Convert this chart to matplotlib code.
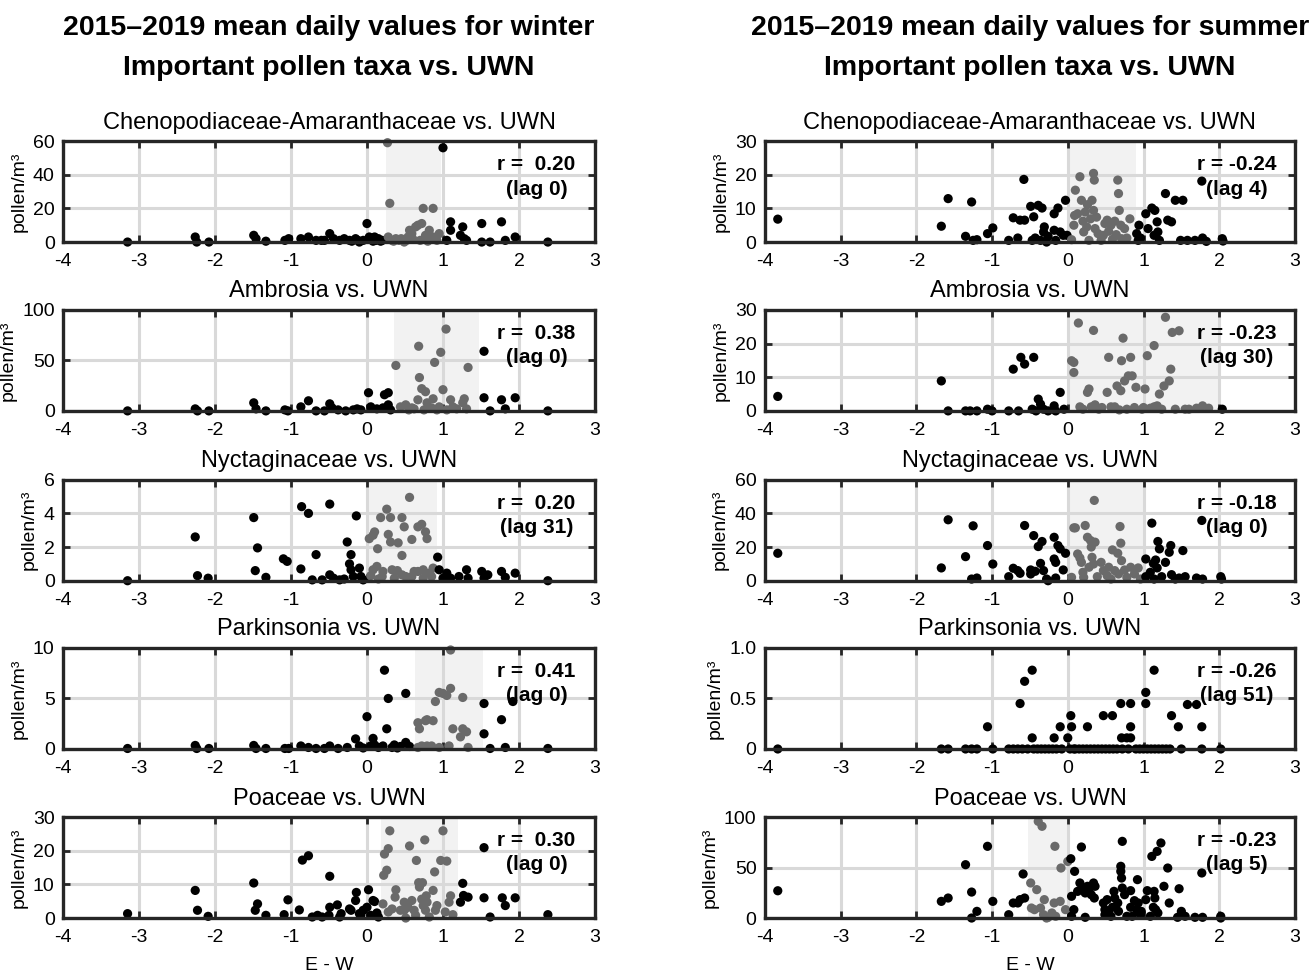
import matplotlib
matplotlib.use('Agg')
import matplotlib.pyplot as plt

FAM = ['Liberation Sans Narrow', 'Liberation Sans', 'DejaVu Sans']
plt.rcParams['font.family'] = FAM
plt.rcParams['axes.unicode_minus'] = False

# ---------------- data ----------------
taxa = ['Chenopodiaceae-Amaranthaceae', 'Ambrosia', 'Nyctaginaceae', 'Parkinsonia', 'Poaceae']
season_names = ['winter', 'summer']

# winter panels: (UWN E-W, pollen/m3)
w_chen = [(-3.15,0),(-2.26,3),(-2.24,0),(-2.08,0),(-1.49,4),(-1.46,2),(-1.33,0.5),(-1.08,1),(-1.03,2),
          (-0.87,2),(-0.77,3),(-0.67,1),(-0.6,1),(-0.56,1),(-0.49,5),(-0.44,2),(-0.36,1),(-0.3,2),(-0.23,1),
          (-0.2,0.5),(-0.15,2),(-0.12,1),(-0.10,0),(0.00,11),(-0.05,1),(0.03,3),(0.05,2),(0.08,0.5),(0.10,3),
          (0.12,1),(0.15,2),(0.18,0.5),(0.20,1),
          (0.27,59),(0.30,23),(0.28,3),(0.33,1),(0.35,0.5),(0.38,2),(0.42,1),(0.45,2),(0.49,0),(0.52,1),
          (0.54,3),(0.56,7),(0.59,5),(0.6,2),(0.64,9),(0.67,10),(0.7,1),(0.72,11),(0.74,20),(0.77,4),
          (0.8,0.5),(0.82,7),(0.87,20),(0.87,3),(0.9,2),(0.92,1),(0.95,5),
          (1.00,56),(1.05,1),(1.10,12),(1.10,7),(1.23,4),(1.26,9),(1.31,1),(1.28,2),(1.51,11),(1.51,0),
          (1.62,0),(1.77,12),(1.82,1),(1.95,3),(2.38,0)]

w_ambr = [(-3.15,0),(-2.26,2),(-2.23,0),(-2.08,0),(-1.49,8),(-1.46,2),(-1.33,0),(-1.08,1),(-1.04,0),
          (-0.87,4),(-0.77,10),(-0.67,0),(-0.56,0),(-0.49,7),(-0.46,3),(-0.38,1),(-0.28,0),(-0.18,1),
          (-0.13,2),(-0.08,1),(0.02,18),(0.05,4),(0.13,2),(0.21,3),(0.23,16),(0.28,18),(0.28,6),(0.31,1),
          (0.38,45),(0.44,4),(0.51,6),(0.59,3),(0.67,11),(0.68,64),(0.69,33),(0.72,22),(0.77,19),(0.79,8),
          (0.85,3),(0.87,12),(0.89,48),(0.95,4),(0.97,58),(1.0,21),(1.04,81),(1.05,1),(1.1,11),(1.13,4),
          (1.26,8),(1.28,12),(1.33,43),(1.31,2),(0.55,1),(0.62,2),(0.75,1),(0.92,1),(1.18,2),
          (1.54,59),(1.54,13),(1.62,0),(1.77,11),(1.82,2),(1.95,13),(2.38,0)]

w_nyct = [(-3.15,0.0),(-2.26,2.6),(-2.23,0.3),(-2.09,0.15),(-1.49,3.75),(-1.47,0.6),(-1.44,1.95),
          (-1.33,0.2),(-1.1,1.3),(-1.05,1.15),(-0.87,0.7),(-0.86,4.4),(-0.77,4.0),(-0.72,0.05),
          (-0.67,1.55),(-0.59,0.05),(-0.49,4.55),(-0.49,0.35),(-0.44,0.15),(-0.36,0.05),(-0.3,0.1),
          (-0.26,2.3),(-0.23,1.0),(-0.21,1.55),(-0.21,0.65),(-0.18,0.25),(-0.14,3.85),(-0.1,0.75),
          (-0.08,0.25),(-0.05,0.05),
          (0.03,2.5),(0.08,2.7),(0.1,2.9),(0.13,0.85),(0.14,1.9),(0.18,3.75),(0.21,0.55),(0.26,4.25),
          (0.28,2.75),(0.31,3.75),(0.31,2.3),(0.33,0.65),(0.41,2.25),(0.46,0.35),(0.46,3.75),(0.49,3.2),
          (0.46,1.5),(0.56,4.95),(0.59,2.45),(0.62,0.55),(0.67,3.2),(0.72,3.35),(0.74,0.65),(0.77,2.9),
          (0.79,2.5),(0.85,0.25),(0.87,0.75),(0.08,0.65),(0.2,0.25),(0.36,0.15),(0.51,0.25),(0.59,0.25),
          (0.67,0.55),(0.74,0.15),(0.82,0.45),(0.05,0.3),(0.15,0.1),(0.4,0.6),
          (0.93,1.4),(0.95,0.65),(1.0,0.15),(1.05,0.45),(1.1,0.15),(1.21,0.25),(1.31,0.65),(1.33,0.15),
          (1.51,0.55),(1.54,0.15),(1.59,0.35),(1.77,0.55),(1.82,0.2),(1.95,0.45),(2.38,0.0)]

w_park = [(-3.15,0.05),(-2.26,0.35),(-2.24,0.05),(-2.08,0.05),(-1.49,0.35),(-1.46,0.05),(-1.33,0.05),
          (-1.08,0.05),(-1.03,0.05),(-0.87,0.3),(-0.77,0.15),(-0.67,0.05),(-0.56,0.05),(-0.49,0.3),
          (-0.38,0.05),(-0.26,0.15),(-0.15,1.0),(-0.1,0.3),(-0.05,0.1),(0.0,3.2),(0.08,1.05),(0.1,0.4),
          (0.15,0.15),(0.21,0.3),(0.23,7.8),(0.26,2.0),(0.28,5.0),(0.33,0.15),(0.36,0.4),(0.44,0.25),
          (0.51,5.5),(0.51,0.65),(0.56,0.25),(0.05,0.3),(0.4,0.1),
          (0.67,2.6),(0.69,2.0),(0.72,0.3),(0.77,2.8),(0.79,2.9),(0.85,0.3),(0.87,2.8),(0.9,4.7),
          (0.95,5.6),(1.0,5.5),(1.05,5.3),(1.08,0.3),(1.1,6.0),(1.1,9.8),(1.13,2.0),(1.23,1.2),
          (1.26,5.1),(1.26,2.0),(1.31,1.7),(1.33,0.15),(0.79,0.3),(0.95,0.15),(0.67,0.15),
          (1.54,4.5),(1.54,1.5),(1.62,0.05),(1.77,2.9),(1.82,0.15),(1.92,4.7),(2.38,0.05)]

w_poac = [(-3.15,1.3),(-2.26,8.2),(-2.23,2.3),(-2.09,0.5),(-1.49,10.4),(-1.47,2.3),(-1.44,4.2),
          (-1.33,0.8),(-1.09,1.0),(-1.04,5.4),(-0.89,2.4),(-0.85,17.2),(-0.77,18.5),(-0.72,0.3),
          (-0.65,0.8),(-0.59,0.3),(-0.5,0.8),(-0.49,12.4),(-0.49,3.2),(-0.39,3.9),(-0.36,0.3),(-0.34,1.3),
          (-0.23,2.7),(-0.21,2.3),(-0.15,5.2),(-0.14,7.6),(-0.1,1.3),(-0.08,0.8),(-0.05,2.3),(0.0,3.2),
          (0.02,8.4),(0.05,0.8),(0.08,5.2),(0.1,4.9),(0.13,1.5),(0.15,0.3),
          (0.21,4.2),(0.22,12.7),(0.23,19),(0.26,14.2),(0.28,20.6),(0.3,25.9),(0.28,1.8),(0.33,2.7),
          (0.37,6.2),(0.38,8.4),(0.44,2.3),(0.49,4.7),(0.51,0.0),(0.54,3.2),(0.56,21.4),(0.59,5.2),
          (0.64,0.8),(0.65,17.1),(0.68,10.5),(0.69,9.2),(0.72,5.6),(0.73,10.5),(0.74,3.7),(0.76,23.2),
          (0.77,2.3),(0.78,6.6),(0.79,4.7),(0.82,0.3),(0.87,8.2),(0.89,13.7),(0.92,3.7),(0.97,17.1),
          (1.0,25.9),(1.03,1.8),(1.05,16.9),(1.08,4.7),(1.1,6.6),(1.13,1.0),(0.49,2.3),(0.62,2.3),(0.9,2.3),
          (1.23,4.7),(1.26,10.3),(1.27,6.7),(1.33,6.2),(1.54,20.9),(1.54,6.0),(1.62,0.3),(1.78,6.0),
          (1.82,3.7),(1.95,6.0),(2.38,1.0)]

# summer panels
s_chen = [(-3.83,6.8),(-1.67,4.7),(-1.58,12.9),(-1.35,1.7),(-1.27,11.9),(-1.25,0.5),(-1.2,0.7),
          (-1.06,2.5),(-0.99,4.2),(-0.78,0.5),(-0.72,7.2),(-0.66,1.2),(-0.63,6.5),(-0.58,18.6),
          (-0.57,6.5),(-0.49,10.6),(-0.47,0.5),(-0.45,7.5),(-0.43,1.2),(-0.39,10.9),(-0.36,0.5),
          (-0.34,10.1),(-0.32,3.0),(-0.31,4.5),(-0.28,0.0),(-0.26,1.7),(-0.18,8.4),(-0.18,3.5),
          (-0.16,0.5),(-0.13,10.1),(-0.1,3.0),(-0.06,2.0),(-0.03,12.4),(-0.01,2.0),
          (0.05,0.7),(0.08,5.0),(0.09,7.9),(0.1,15.4),(0.13,8.4),(0.16,19.4),(0.18,12.4),(0.2,6.2),
          (0.21,3.0),(0.23,8.9),(0.25,4.5),(0.26,11.1),(0.28,0.5),(0.3,6.9),(0.32,12.4),(0.34,9.4),
          (0.34,20.4),(0.35,18.4),(0.36,4.0),(0.38,7.4),(0.4,2.5),(0.44,0.5),(0.47,2.0),(0.49,5.5),
          (0.52,6.5),(0.54,3.2),(0.57,5.0),(0.59,0.8),(0.62,6.2),(0.64,2.2),(0.66,18.4),(0.67,14.4),
          (0.68,9.4),(0.7,5.0),(0.71,1.0),(0.75,4.0),(0.78,1.2),(0.82,6.9),
          (0.91,2.5),(0.93,0.5),(0.94,5.0),(0.96,1.2),(1.03,8.4),(1.06,4.0),(1.11,10.1),(1.14,2.0),
          (1.15,9.4),(1.18,6.0),(1.19,3.0),(1.21,0.5),(1.29,14.4),(1.32,6.5),(1.37,6.0),(1.42,12.4),
          (1.49,0.5),(1.52,12.4),(1.58,0.5),(1.68,0.5),(1.77,18.1),(1.78,1.2),(1.83,0.2),(2.04,1.0),
          (2.05,0.3)]

s_ambr = [(-3.83,4.3),(-1.67,8.9),(-1.58,0.0),(-1.35,0.0),(-1.29,0.0),(-1.2,0.0),(-1.06,0.5),
          (-1.0,0.0),(-0.78,0.0),(-0.72,12.4),(-0.65,0.0),(-0.62,15.9),(-0.57,13.9),(-0.47,0.5),
          (-0.45,15.9),(-0.42,0.0),(-0.39,3.5),(-0.36,2.0),(-0.32,0.5),(-0.26,0.0),(-0.18,1.5),
          (-0.16,0.0),(-0.1,5.5),(-0.05,0.5),
          (0.05,14.9),(0.08,14.4),(0.08,11.4),(0.14,26.1),(0.16,1.2),(0.26,5.5),(0.28,6.5),(0.34,23.9),
          (0.36,1.8),(0.41,0.5),(0.52,5.5),(0.54,15.9),(0.57,1.2),(0.65,7.4),(0.7,6.0),(0.71,14.9),
          (0.73,21.6),(0.75,8.9),(0.78,0.5),(0.8,10.4),(0.83,15.9),(0.85,10.4),(0.9,7.0),(0.98,0.5),
          (1.02,6.5),(1.05,16.4),(1.09,0.8),(1.14,19.4),(1.18,1.5),(1.21,5.0),(1.27,7.4),(1.29,27.8),
          (1.34,8.9),(1.36,12.4),(1.38,23.3),(1.42,0.5),(1.47,23.8),(1.55,0.5),(1.6,0.5),(1.7,0.8),
          (1.78,1.5),(1.86,0.8),(0.31,1.2),(0.62,1.2),(0.88,1.0),(1.14,1.2),(0.2,0.5),(0.45,1.0),
          (0.68,0.3),(1.0,1.0),(1.24,0.5),
          (2.04,0.5)]

s_nyct = [(-3.83,16.3),(-1.67,7.6),(-1.58,36.2),(-1.35,14.3),(-1.27,1.0),(-1.25,32.6),(-1.2,1.6),
          (-1.06,20.9),(-0.99,9.9),(-0.78,2.4),(-0.72,7.4),(-0.66,6.0),(-0.63,4.4),(-0.57,32.8),
          (-0.49,4.0),(-0.49,6.4),(-0.45,26.8),(-0.43,5.6),(-0.39,20.3),(-0.36,10.3),(-0.34,23.3),
          (-0.32,6.0),(-0.28,1.0),(-0.26,0.0),(-0.18,12.9),(-0.18,25.8),(-0.16,10.9),(-0.16,1.6),
          (-0.13,20.9),(-0.1,18.9),(-0.06,6.4),(-0.03,16.3),
          (0.05,2.0),(0.08,31.4),(0.1,31.4),(0.13,15.9),(0.16,13.5),(0.18,10.9),(0.2,5.0),(0.21,2.0),
          (0.23,32.8),(0.26,25.8),(0.28,8.0),(0.3,23.9),(0.31,20.0),(0.32,13.9),(0.34,9.9),(0.35,47.7),
          (0.36,22.9),(0.39,2.4),(0.44,10.9),(0.47,6.0),(0.52,3.0),(0.54,8.0),(0.57,1.0),(0.59,18.3),
          (0.62,6.0),(0.66,16.3),(0.67,4.0),(0.69,32.2),(0.7,22.3),(0.71,11.9),(0.75,6.4),(0.78,2.0),
          (0.83,8.0),(0.88,4.0),(0.93,7.6),(0.96,1.0),
          (1.03,2.4),(1.03,12.9),(1.09,5.0),(1.11,34.2),(1.13,10.3),(1.14,1.0),(1.16,12.3),(1.18,7.6),
          (1.19,23.3),(1.21,18.9),(1.24,2.4),(1.29,10.9),(1.34,16.9),(1.36,20.9),(1.37,3.6),(1.42,1.0),
          (1.47,1.6),(1.52,17.9),(1.55,2.4),(1.7,1.6),(1.78,1.0),(1.77,35.8),(2.02,2.4),(2.03,1.0)]

s_park = [(-3.83,0.0),(-1.67,0.0),(-1.58,0.0),(-1.35,0.0),(-1.27,0.0),(-1.2,0.0),(-1.06,0.22),
          (-0.99,0.0),(-0.78,0.0),(-0.72,0.0),(-0.66,0.0),(-0.63,0.45),(-0.6,0.0),(-0.57,0.67),
          (-0.53,0.0),(-0.47,0.78),(-0.47,0.11),(-0.45,0.0),(-0.4,0.0),(-0.35,0.0),(-0.3,0.0),
          (-0.25,0.0),(-0.2,0.0),(-0.18,0.11),(-0.15,0.0),(-0.1,0.22),(-0.08,0.0),(0.0,0.11),(0.03,0.0),
          (0.04,0.33),(0.05,0.22),(0.08,0.0),(0.1,0.0),(0.15,0.0),(0.2,0.0),(0.25,0.0),(0.26,0.22),
          (0.3,0.0),(0.35,0.0),(0.4,0.0),(0.45,0.0),(0.47,0.33),(0.5,0.0),(0.55,0.0),(0.59,0.33),
          (0.6,0.0),(0.65,0.0),(0.7,0.45),(0.71,0.11),(0.72,0.0),(0.78,0.11),(0.8,0.0),(0.83,0.45),
          (0.83,0.22),(0.83,0.11),(0.9,0.0),(0.95,0.0),(1.0,0.0),(1.03,0.45),(1.03,0.56),(1.05,0.0),
          (1.1,0.0),(1.14,0.78),(1.15,0.0),(1.2,0.0),(1.25,0.0),(1.3,0.0),(1.35,0.0),(1.37,0.33),
          (1.46,0.22),(1.5,0.0),(1.58,0.44),(1.7,0.44),(1.77,0.22),(1.77,0.0),(2.02,0.0)]

s_poac = [(-3.83,27),(-1.67,16.5),(-1.58,19.8),(-1.35,52.8),(-1.27,25.7),(-1.27,0.0),(-1.2,6.6),
          (-1.06,71),(-0.99,16.5),(-0.78,3.3),(-0.72,14.9),(-0.66,14.9),(-0.63,18.2),(-0.59,43.6),
          (-0.57,19.8),
          (-0.49,34.7),(-0.48,9.9),(-0.44,8.3),(-0.41,28.1),(-0.39,95.7),(-0.34,90.8),(-0.36,9.9),
          (-0.32,3.3),(-0.31,18.2),(-0.28,0.0),(-0.26,0.7),(-0.21,5.0),(-0.18,14.9),(-0.17,71),
          (-0.16,1.7),(-0.1,16.5),(-0.09,49.5),(-0.03,8.3),
          (0.0,56),(0.04,58.7),(0.05,21.5),(0.05,1.7),(0.08,8.3),(0.09,46.2),(0.13,26.4),(0.16,34.7),
          (0.18,70.3),(0.2,29.7),(0.23,24.8),(0.23,0.7),(0.26,31.4),(0.28,26.4),(0.31,23.1),(0.34,34.7),
          (0.35,19.8),(0.36,31.4),(0.47,14.9),(0.49,3.3),(0.49,8.3),(0.52,18.2),(0.54,5.0),(0.57,1.7),
          (0.59,10.6),(0.61,26.4),(0.62,19.8),(0.66,14.9),(0.67,6.6),(0.7,51.2),(0.7,46.2),(0.71,39.6),
          (0.72,75.9),(0.72,29.7),(0.75,23.1),(0.78,1.7),(0.83,27.1),(0.83,10.6),(0.85,1.7),(0.88,17.2),
          (0.91,8.3),(0.92,38),(0.93,14.9),(0.96,3.3),(0.97,6.6),(1.03,18.2),(1.05,27.1),(1.09,1.7),
          (1.11,61),(1.13,10.6),(1.14,26.4),(1.15,19.8),(1.16,8.3),(1.18,66),(1.19,5.0),(1.23,74.3),
          (1.27,31.4),(1.32,49.5),(1.34,14.9),(1.45,0.7),(1.47,29),(1.5,6.6),(1.55,1.7),(1.68,0.7),
          (1.77,44.6),(1.78,0.7),(2.02,1.7),(2.02,0.0)]

panel_data = [[w_chen, w_ambr, w_nyct, w_park, w_poac],
              [s_chen, s_ambr, s_nyct, s_park, s_poac]]

# shaded UWN ranges (None = no shading)
shade = [[(0.25, 0.97), (0.35, 1.48), (0.0, 0.92), (0.63, 1.53), (0.19, 1.2)],
         [(0.0, 0.9), (0.0, 2.0), (0.0, 1.0), None, (-0.52, 0.0)]]

r_vals = [[' 0.20', ' 0.38', ' 0.20', ' 0.41', ' 0.30'],
          ['-0.24', '-0.23', '-0.18', '-0.26', '-0.23']]
lags = [[0, 0, 31, 0, 0], [4, 30, 0, 51, 5]]

yticks = [[[0, 20, 40, 60], [0, 50, 100], [0, 2, 4, 6], [0, 5, 10], [0, 10, 20, 30]],
          [[0, 10, 20, 30], [0, 10, 20, 30], [0, 20, 40, 60], [0, 0.5, 1.0], [0, 50, 100]]]
ytick_labels = [[None] * 5, [None, None, None, ['0', '0.5', '1.0'], None]]
xticks = [-4, -3, -2, -1, 0, 1, 2, 3]

# ---------------- figure ----------------
fig = plt.figure(figsize=(13.12, 9.76), dpi=100)

col_left = [0.048, 0.583]
col_w = [0.4055, 0.404]
row_bottom = [0.752, 0.579, 0.405, 0.2326, 0.0594]
row_h = 0.1035

FRAME = '#262626'
GRAY = '#6a6a6a'

for c in range(2):
    for r in range(5):
        ax = fig.add_axes([col_left[c], row_bottom[r], col_w[c], row_h])
        pts = panel_data[c][r]
        sh = shade[c][r]
        xs = [p[0] for p in pts]
        ys = [p[1] for p in pts]
        cols = []
        for x in xs:
            if sh is not None and sh[0] <= x <= sh[1]:
                cols.append(GRAY)
            else:
                cols.append('black')
        if sh is not None:
            ax.axvspan(sh[0], sh[1], color='#f2f2f2', zorder=0.2, lw=0)
        ax.scatter(xs, ys, s=44, c=cols, edgecolors='none', zorder=3, clip_on=False)
        ax.set_xlim(-4, 3)
        yt = yticks[c][r]
        ax.set_ylim(yt[0], yt[-1])
        ax.set_xticks(xticks)
        ax.set_xticklabels([str(t) for t in xticks])
        ax.set_yticks(yt)
        if ytick_labels[c][r] is not None:
            ax.set_yticklabels(ytick_labels[c][r])
        else:
            ax.set_yticklabels([('%g' % t) for t in yt])
        ax.grid(True, color='#d9d9d9', lw=2.2, zorder=0.5)
        ax.set_axisbelow(True)
        for sp in ax.spines.values():
            sp.set_linewidth(2.4)
            sp.set_color(FRAME)
            sp.set_zorder(5)
        ax.tick_params(direction='in', length=5, width=2, color=FRAME, top=True, right=True,
                       labelsize=14)
        ax.tick_params(axis='x', pad=8)
        ax.tick_params(axis='y', pad=6)
        ax.set_ylabel('pollen/m³', fontsize=14, labelpad=4)
        ax.set_title(taxa[r] + ' vs. UWN', fontsize=17, pad=9)
        ax.text(0.89, 0.645, 'r = %s\n(lag %d)' % (r_vals[c][r], lags[c][r]),
                transform=ax.transAxes, ha='center', va='center', fontsize=15,
                fontweight='bold', linespacing=1.35, zorder=2)
        if r == 4:
            ax.set_xlabel('E - W', fontsize=14, labelpad=8)
    cx = col_left[c] + col_w[c] / 2
    fig.text(cx, 1 - 28 / 976, '2015–2019 mean daily values for ' + season_names[c],
             ha='center', va='center', fontsize=20.5, fontweight='bold')
    fig.text(cx, 1 - 68 / 976, 'Important pollen taxa vs. UWN',
             ha='center', va='center', fontsize=20.5, fontweight='bold')

fig.savefig('out.png', dpi=100, facecolor='white')
